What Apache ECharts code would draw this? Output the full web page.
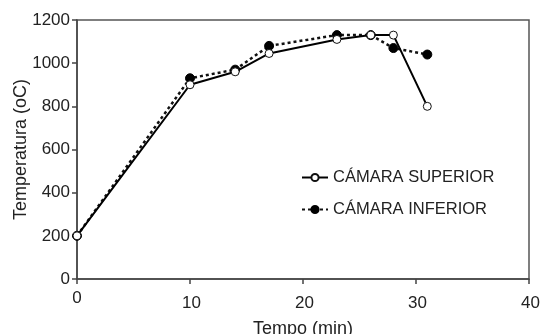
<!DOCTYPE html>
<html>
<head>
<meta charset="utf-8">
<script src="https://cdn.jsdelivr.net/npm/echarts@6/dist/echarts.min.js"></script>
<style>
  html, body { margin: 0; padding: 0; background: #fff; }
  #chart { width: 542px; height: 334px; }
</style>
</head>
<body>
<div id="chart"></div>
<script>
// Tiempo (min) de cada medición
const tiempo = [0, 10, 14, 17, 23, 26, 28, 31];
// Temperatura de cada cámara (ºC)
const camaraSuperior = [200, 900, 960, 1045, 1110, 1130, 1130, 800];
const camaraInferior = [200, 930, 970, 1080, 1130, 1130, 1070, 1040];
const serieNombres = ['CÁMARA SUPERIOR', 'CÁMARA INFERIOR'];

const pares = (xs, ys) => xs.map((x, i) => [x, ys[i]]);

const font = 'Liberation Sans, Arial, sans-serif';
const chart = echarts.init(document.getElementById('chart'), null, { renderer: 'canvas' });

chart.setOption({
  animation: false,
  backgroundColor: '#fff',
  grid: {
    left: 77, right: 13, top: 20, bottom: 55,
    outerBoundsMode: 'none', containLabel: false,
    show: true, borderColor: '#555', borderWidth: 1.5, backgroundColor: 'transparent'
  },
  legend: {
    orient: 'vertical',
    left: 296, top: 164,
    itemWidth: 26, itemHeight: 9, itemGap: 15,
    textStyle: { fontFamily: font, fontSize: 16.5, color: '#222' },
    data: serieNombres
  },
  xAxis: {
    type: 'value', min: 0, max: 40, interval: 10,
    name: 'Tempo (min)', nameLocation: 'middle', nameGap: 41,
    nameTextStyle: { fontFamily: font, fontSize: 18, color: '#222' },
    axisLine: { show: true, lineStyle: { color: '#444', width: 1.5 } },
    axisTick: { show: true, length: 5, lineStyle: { color: '#444', width: 1.5 } },
    axisLabel: {
      fontFamily: font, fontSize: 17, color: '#222', margin: 11,
      // the origin label sits a little higher than the others
      formatter: v => (v === 0 ? '{o|0}' : '{n|' + v + '}'),
      rich: {
        o: { fontFamily: font, fontSize: 17, color: '#222' },
        n: { fontFamily: font, fontSize: 17, color: '#222', padding: [5, 0, 0, 3] }
      }
    },
    splitLine: { show: false }
  },
  yAxis: {
    type: 'value', min: 0, max: 1200, interval: 200,
    name: 'Temperatura (oC)', nameLocation: 'middle', nameGap: 47, nameRotate: 90,
    nameMoveOverlap: false,
    nameTextStyle: { fontFamily: font, fontSize: 18, color: '#222' },
    axisLine: { show: true, lineStyle: { color: '#444', width: 1.5 } },
    axisTick: { show: true, length: 5, lineStyle: { color: '#444', width: 1.5 } },
    axisLabel: { fontFamily: font, fontSize: 17, color: '#222', margin: 7, formatter: v => String(v) },
    splitLine: { show: false }
  },
  series: [
    {
      name: serieNombres[1],
      type: 'line',
      data: pares(tiempo, camaraInferior),
      symbol: 'circle', symbolSize: 9,
      itemStyle: { color: '#000', borderColor: '#000', borderWidth: 1 },
      lineStyle: { color: '#111', width: 2.5, type: [3, 3] },
      z: 2
    },
    {
      name: serieNombres[0],
      type: 'line',
      data: pares(tiempo, camaraSuperior),
      symbol: 'circle', symbolSize: 8,
      itemStyle: { color: '#fff', borderColor: '#111', borderWidth: 1 },
      lineStyle: { color: '#000', width: 2 },
      z: 3
    }
  ]
});
</script>
</body>
</html>
